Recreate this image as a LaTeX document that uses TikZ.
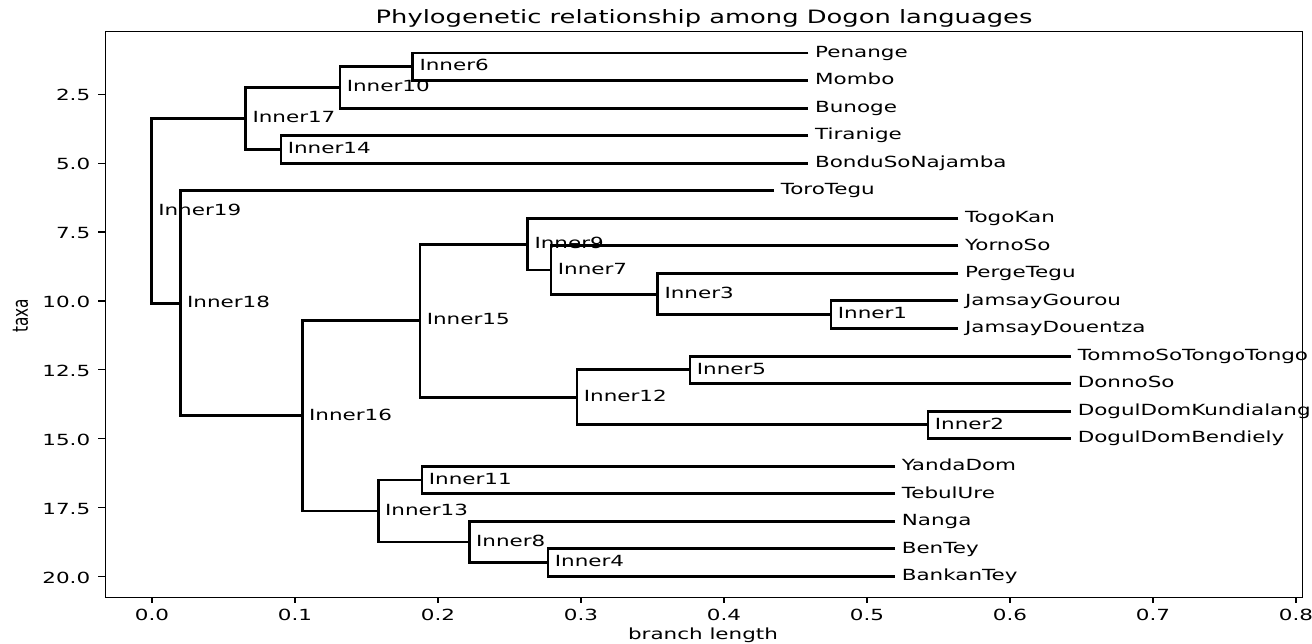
\documentclass[tikz,border=0pt]{standalone}
\usepackage{fontspec}
\setmainfont{DejaVu Sans}[FakeStretch=1.40]
\newfontfamily\plainfont{DejaVu Sans}
\usepackage{graphicx}
\newcommand\treeedge[3]{\draw[branch] (#2) -- (#1 |- #2) -- (#1 |- #3) -- (#3);}
\tikzset{
  branch/.style={line width=2.2pt, line join=miter, line cap=butt},
  frame/.style={line width=0.9pt},
  tickmark/.style={line width=0.9pt},
  lab/.style={anchor=west, inner sep=0pt, xshift=4.9pt, text height=8.74pt, text depth=2.42pt, font=\fontsize{11.5}{13}\selectfont},
  ylab/.style={anchor=east, inner sep=0pt, text height=8.38pt, text depth=0pt, font=\fontsize{11.5}{13}\selectfont},
  xlab/.style={anchor=north, inner sep=0pt, text height=8.38pt, text depth=0pt, font=\fontsize{11.5}{13}\selectfont},
  axlab/.style={anchor=base, inner sep=0pt, font=\fontsize{11.5}{13}\selectfont},
  titlestyle/.style={anchor=base, inner sep=0pt, font=\fontsize{13.8}{16}\selectfont},
}
\begin{document}
\begin{tikzpicture}[x=0.75pt, y=-0.75pt]
\useasboundingbox (0,0) rectangle (1312,643);
% leaves
\coordinate (penange) at (808.3,53.0);
\coordinate (mombo) at (808.3,80.55);
\coordinate (bunoge) at (808.3,108.1);
\coordinate (tiranige) at (808.3,135.65);
\coordinate (bondu) at (808.3,163.2);
\coordinate (toro) at (774,190.75);
\coordinate (togo) at (958.3,218.3);
\coordinate (yorno) at (958.3,245.85);
\coordinate (perge) at (958.3,273.4);
\coordinate (jgourou) at (958.3,300.95);
\coordinate (jdouentza) at (958.3,328.5);
\coordinate (tommo) at (1071,356.05);
\coordinate (donno) at (1071,383.6);
\coordinate (dkund) at (1071,411.15);
\coordinate (dbend) at (1071,438.7);
\coordinate (yanda) at (895,466.25);
\coordinate (tebul) at (895,493.8);
\coordinate (nanga) at (895,521.35);
\coordinate (bentey) at (895,548.9);
\coordinate (bankan) at (895,576.45);
% inner nodes
\coordinate (i6) at (412.7,66.78);
\coordinate (i10) at (340,87.44);
\coordinate (i14) at (281,149.4);
\coordinate (i17) at (245.7,118.4);
\coordinate (i1) at (831,314.7);
\coordinate (i3) at (657.7,294.3);
\coordinate (i7) at (551,269.96);
\coordinate (i9) at (527.7,244.1);
\coordinate (i5) at (690,369.8);
\coordinate (i2) at (928,424.9);
\coordinate (i12) at (577,397.4);
\coordinate (i15) at (420,320.7);
\coordinate (i11) at (422,480.0);
\coordinate (i4) at (548,562.7);
\coordinate (i8) at (469.3,542.0);
\coordinate (i13) at (378.3,511.0);
\coordinate (i16) at (302.3,415.9);
\coordinate (i18) at (180.3,303.3);
\coordinate (i19) at (151.5,210.9);
% frame
\draw[frame] (105.3,31.7) rectangle (1302.7,597.3);
% branches
\treeedge{i19}{i17}{i18}
\treeedge{i17}{i10}{i14}
\treeedge{i10}{i6}{bunoge}
\treeedge{i6}{penange}{mombo}
\treeedge{i14}{tiranige}{bondu}
\treeedge{i18}{toro}{i16}
\treeedge{i16}{i15}{i13}
\treeedge{i15}{i9}{i12}
\treeedge{i9}{togo}{i7}
\treeedge{i7}{yorno}{i3}
\treeedge{i3}{perge}{i1}
\treeedge{i1}{jgourou}{jdouentza}
\treeedge{i12}{i5}{i2}
\treeedge{i5}{tommo}{donno}
\treeedge{i2}{dkund}{dbend}
\treeedge{i13}{i11}{i8}
\treeedge{i11}{yanda}{tebul}
\treeedge{i8}{nanga}{i4}
\treeedge{i4}{bentey}{bankan}
% inner labels
\node[lab] (n19) at (i19) {Inner19};
\node[lab] (n18) at (i18) {Inner18};
\node[lab] (n17) at (i17) {Inner17};
\node[lab] (n16) at (i16) {Inner16};
\node[lab] (n15) at (i15) {Inner15};
\node[lab] (n14) at (i14) {Inner14};
\node[lab] (n13) at (i13) {Inner13};
\node[lab] (n12) at (i12) {Inner12};
\node[lab] (n11) at (i11) {Inner11};
\node[lab] (n10) at (i10) {Inner10};
\node[lab] (n9) at (i9) {Inner9};
\node[lab] (n8) at (i8) {Inner8};
\node[lab] (n7) at (i7) {Inner7};
\node[lab] (n6) at (i6) {Inner6};
\node[lab] (n5) at (i5) {Inner5};
\node[lab] (n4) at (i4) {Inner4};
\node[lab] (n3) at (i3) {Inner3};
\node[lab] (n2) at (i2) {Inner2};
\node[lab] (n1) at (i1) {Inner1};
% leaf labels
\node[lab] (tpenange) at (penange) {Penange};
\node[lab] (tmombo) at (mombo) {Mombo};
\node[lab] (tbunoge) at (bunoge) {Bunoge};
\node[lab] (ttiranige) at (tiranige) {Tiranige};
\node[lab] (tbondu) at (bondu) {BonduSoNajamba};
\node[lab] (ttoro) at (toro) {ToroTegu};
\node[lab] (ttogo) at (togo) {TogoKan};
\node[lab] (tyorno) at (yorno) {YornoSo};
\node[lab] (tperge) at (perge) {PergeTegu};
\node[lab] (tjgourou) at (jgourou) {JamsayGourou};
\node[lab] (tjdouentza) at (jdouentza) {JamsayDouentza};
\node[lab] (ttommo) at (tommo) {TommoSoTongoTongo};
\node[lab] (tdonno) at (donno) {DonnoSo};
\node[lab] (tdkund) at (dkund) {DogulDomKundialang};
\node[lab] (tdbend) at (dbend) {DogulDomBendiely};
\node[lab] (tyanda) at (yanda) {YandaDom};
\node[lab] (ttebul) at (tebul) {TebulUre};
\node[lab] (tnanga) at (nanga) {Nanga};
\node[lab] (tbentey) at (bentey) {BenTey};
\node[lab] (tbankan) at (bankan) {BankanTey};
% x ticks
\foreach \k/\t in {0/0.0,1/0.1,2/0.2,3/0.3,4/0.4,5/0.5,6/0.6,7/0.7,8/0.8}{
  \draw[tickmark] (152+143*\k,597.3) -- (152+143*\k,602.5);
  \node[xlab] (xt\k) at (152+143*\k,609.3) {\t};
}
% y ticks
\foreach \r/\t in {2.5/2.5,5/5.0,7.5/7.5,10/10.0,12.5/12.5,15/15.0,17.5/17.5,20/20.0}{
  \draw[tickmark] (98,53+27.55*\r-27.55) -- (105.3,53+27.55*\r-27.55);
  \node[ylab] (yt\r) at (90.5,54+27.55*\r-27.55) {\t};
}
% axis labels and title
\node[axlab] (xaxis) at (703,639) {branch length};
\node[rotate=90, inner sep=0pt] (yaxis) at (20.5,316) {\scalebox{1}[1.40]{\plainfont\fontsize{11.5}{13}\selectfont taxa}};
\node[titlestyle] (title) at (704,23.3) {Phylogenetic relationship among Dogon languages};
\end{tikzpicture}
\end{document}
